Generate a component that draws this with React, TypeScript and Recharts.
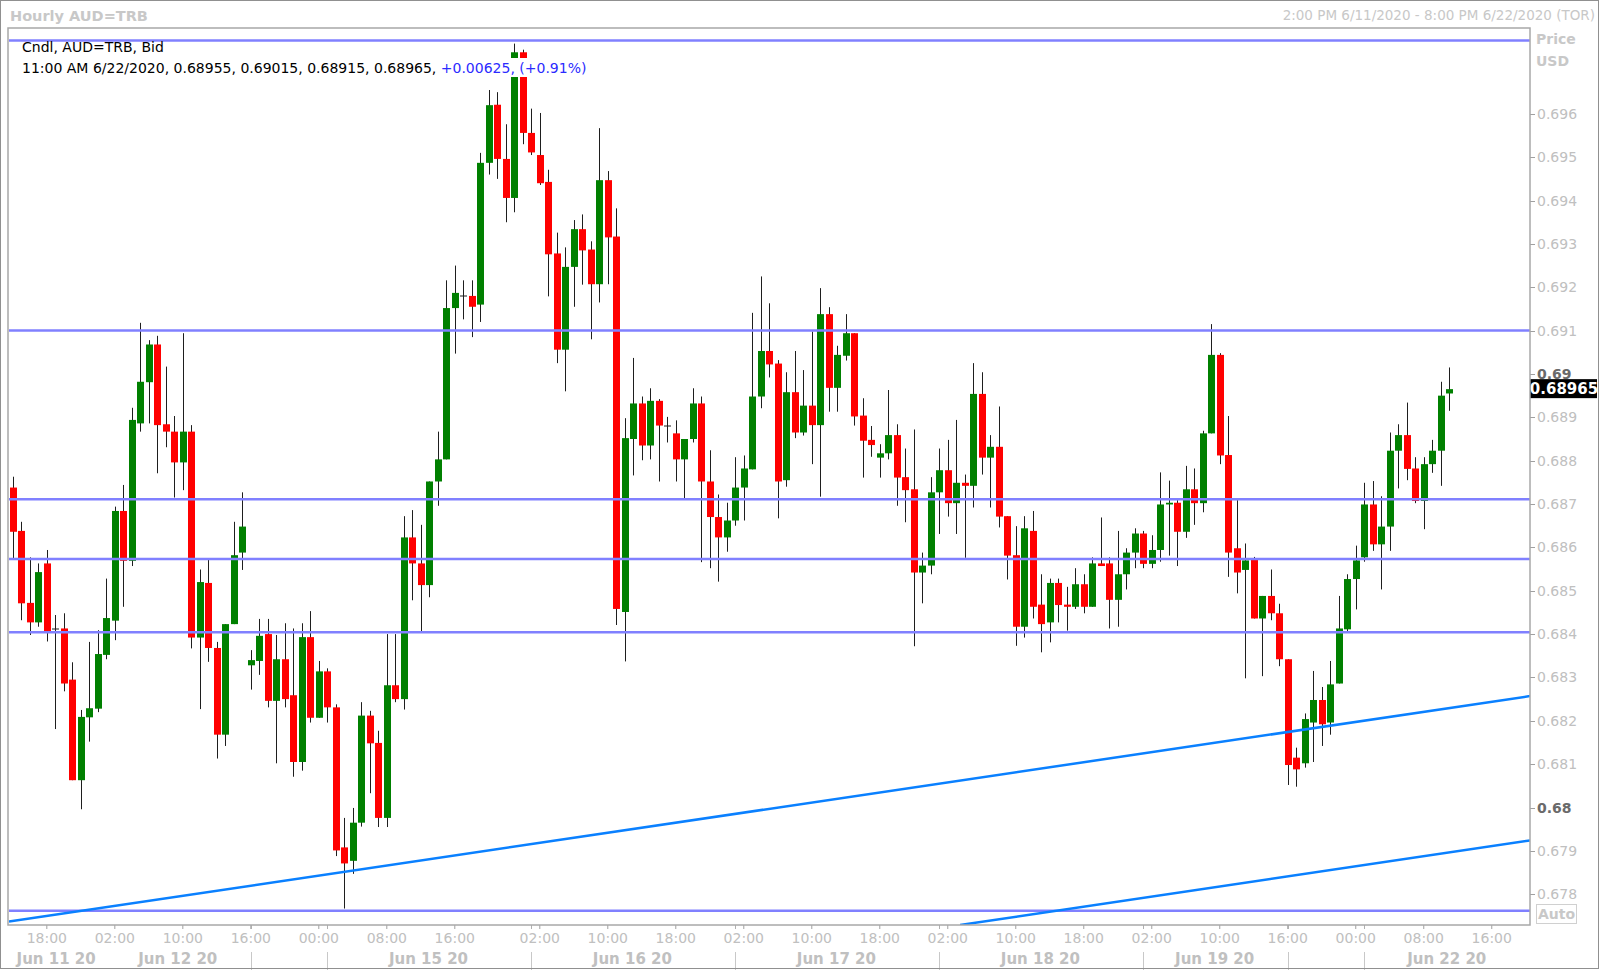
import React from "react";
import { ComposedChart, Bar, XAxis, YAxis, ReferenceLine } from "recharts";

// ---------- DATA ----------
const OPEN = [
  0.68738, 0.68638, 0.68472, 0.68427, 0.68563, 0.68412, 0.68413, 0.68295, 0.68063, 0.68208,
  0.68228, 0.68352, 0.68431, 0.68684, 0.68569, 0.68886, 0.68981, 0.69068, 0.68884, 0.68867,
  0.68796, 0.68867, 0.68392, 0.68518, 0.68368, 0.68168, 0.68423, 0.68588, 0.68328, 0.68338,
  0.684, 0.68246, 0.68342, 0.68259, 0.68105, 0.68393, 0.68207, 0.68314, 0.68231, 0.67908,
  0.67877, 0.67965, 0.68212, 0.68149, 0.67976, 0.68282, 0.6825, 0.68623, 0.68563, 0.68513,
  0.68752, 0.68803, 0.69152, 0.6918, 0.6918, 0.6916, 0.69487, 0.69621, 0.69496, 0.69406,
  0.69742, 0.69556, 0.69505, 0.69443, 0.69278, 0.69056, 0.69247, 0.69334, 0.69287, 0.69207,
  0.69447, 0.69317, 0.68451, 0.6885, 0.68932, 0.68835, 0.68938, 0.68881, 0.68863, 0.68803,
  0.6885, 0.68932, 0.68752, 0.6867, 0.68623, 0.68662, 0.68738, 0.6878, 0.68948, 0.69053,
  0.69024, 0.68755, 0.68958, 0.68865, 0.68927, 0.68882, 0.69138, 0.68968, 0.69042, 0.69094,
  0.68904, 0.68848, 0.68807, 0.68817, 0.68859, 0.68762, 0.68734, 0.68542, 0.68558, 0.68727,
  0.68778, 0.68702, 0.68749, 0.68742, 0.68954, 0.68807, 0.68832, 0.68672, 0.68582, 0.68417,
  0.68638, 0.68468, 0.68427, 0.68518, 0.68468, 0.68463, 0.68515, 0.68463, 0.68563, 0.68563,
  0.68479, 0.68538, 0.68588, 0.68632, 0.68562, 0.68594, 0.68699, 0.68703, 0.68636, 0.68734,
  0.68702, 0.68863, 0.69044, 0.68813, 0.68598, 0.68548, 0.68571, 0.68436, 0.68488, 0.68448,
  0.68342, 0.68115, 0.68102, 0.68196, 0.68248, 0.68196, 0.68286, 0.68411, 0.68527, 0.68577,
  0.68699, 0.68607, 0.68648, 0.68823, 0.68859, 0.68782, 0.68707, 0.68792, 0.68823, 0.68955,
];
const HIGH = [
  0.68763, 0.68659, 0.68577, 0.68563, 0.68594, 0.68444, 0.68448, 0.68335, 0.68225, 0.68382,
  0.68409, 0.68528, 0.68694, 0.68744, 0.68922, 0.69118, 0.69078, 0.69088, 0.69017, 0.68903,
  0.69094, 0.68882, 0.68549, 0.68571, 0.68382, 0.68423, 0.68659, 0.68727, 0.68363, 0.68435,
  0.68435, 0.68398, 0.68425, 0.68413, 0.68425, 0.68453, 0.68338, 0.68321, 0.68238, 0.67976,
  0.67999, 0.68243, 0.68223, 0.68177, 0.684, 0.684, 0.68672, 0.68686, 0.68652, 0.68752,
  0.68867, 0.69216, 0.6925, 0.69216, 0.69216, 0.6951, 0.69655, 0.6965, 0.69576, 0.69762,
  0.69748, 0.69612, 0.69602, 0.69471, 0.69326, 0.69292, 0.69355, 0.69368, 0.69306, 0.69567,
  0.69468, 0.69382, 0.68898, 0.69037, 0.68948, 0.68967, 0.68942, 0.68901, 0.68893, 0.6885,
  0.68967, 0.68948, 0.68824, 0.68722, 0.68703, 0.68808, 0.68812, 0.69141, 0.69225, 0.69163,
  0.69032, 0.69004, 0.69053, 0.69009, 0.69098, 0.69198, 0.69154, 0.69065, 0.69138, 0.69094,
  0.68944, 0.6888, 0.68838, 0.68963, 0.68884, 0.68828, 0.68872, 0.68588, 0.68762, 0.68828,
  0.68848, 0.68894, 0.68768, 0.69025, 0.69004, 0.68859, 0.68925, 0.68672, 0.68649, 0.68672,
  0.68684, 0.68538, 0.68528, 0.68528, 0.68509, 0.68552, 0.68538, 0.68577, 0.68669, 0.68577,
  0.68638, 0.68598, 0.68644, 0.68638, 0.68628, 0.68773, 0.68754, 0.68709, 0.68788, 0.68782,
  0.68869, 0.69115, 0.69048, 0.68903, 0.68709, 0.68609, 0.68578, 0.68488, 0.68549, 0.6847,
  0.68342, 0.68138, 0.68217, 0.68315, 0.68278, 0.68338, 0.68488, 0.68538, 0.68604, 0.68749,
  0.68753, 0.68718, 0.68865, 0.68884, 0.68934, 0.68808, 0.68808, 0.68848, 0.68982, 0.69015,
];
const LOW = [
  0.68575, 0.68432, 0.68398, 0.68417, 0.68383, 0.68181, 0.68268, 0.68063, 0.67996, 0.68152,
  0.6822, 0.68342, 0.68386, 0.68463, 0.68557, 0.68867, 0.68886, 0.68771, 0.68831, 0.68715,
  0.68732, 0.68367, 0.68227, 0.68336, 0.68113, 0.68142, 0.68423, 0.68548, 0.68272, 0.68306,
  0.68231, 0.68102, 0.68231, 0.68071, 0.68085, 0.68196, 0.68207, 0.68196, 0.67888, 0.67767,
  0.67847, 0.67956, 0.68033, 0.67955, 0.67955, 0.68243, 0.68226, 0.68478, 0.68404, 0.68485,
  0.68696, 0.68803, 0.69047, 0.69126, 0.69085, 0.6912, 0.6946, 0.6945, 0.6935, 0.69373,
  0.6953, 0.69505, 0.69436, 0.69179, 0.69025, 0.6896, 0.69155, 0.69206, 0.6908, 0.69165,
  0.69207, 0.68421, 0.68337, 0.68766, 0.68801, 0.68803, 0.68752, 0.68842, 0.68752, 0.68713,
  0.68842, 0.68566, 0.68552, 0.68521, 0.6859, 0.6865, 0.68662, 0.6878, 0.68921, 0.68992,
  0.68667, 0.6874, 0.68852, 0.68858, 0.68792, 0.68717, 0.68913, 0.68913, 0.69031, 0.68881,
  0.68761, 0.68809, 0.68761, 0.68803, 0.68696, 0.68658, 0.68372, 0.68471, 0.68538, 0.68631,
  0.68671, 0.68631, 0.68576, 0.68692, 0.68768, 0.68692, 0.68646, 0.68526, 0.68373, 0.68392,
  0.68436, 0.68358, 0.68381, 0.68427, 0.68408, 0.68458, 0.68448, 0.68463, 0.68557, 0.68413,
  0.68417, 0.68503, 0.68552, 0.68552, 0.68552, 0.68567, 0.68581, 0.68557, 0.68622, 0.68652,
  0.68681, 0.68863, 0.68792, 0.68532, 0.68494, 0.68298, 0.68436, 0.68303, 0.68432, 0.68326,
  0.68052, 0.68048, 0.68092, 0.68105, 0.68142, 0.68168, 0.68286, 0.68405, 0.68457, 0.68567,
  0.68592, 0.68503, 0.68592, 0.68736, 0.68755, 0.68702, 0.68642, 0.68772, 0.68742, 0.68915,
];
const CLOSE = [
  0.68636, 0.68471, 0.68427, 0.68543, 0.68405, 0.68412, 0.68286, 0.68063, 0.68209, 0.68229,
  0.68354, 0.68437, 0.68684, 0.68569, 0.68894, 0.68982, 0.69068, 0.68882, 0.68867, 0.68796,
  0.68867, 0.68392, 0.6852, 0.68368, 0.68168, 0.68423, 0.68582, 0.68648, 0.6834, 0.68396,
  0.68246, 0.68342, 0.6825, 0.68105, 0.68393, 0.68207, 0.68314, 0.68231, 0.67901, 0.67871,
  0.67965, 0.68212, 0.68148, 0.67976, 0.68282, 0.6825, 0.68623, 0.68563, 0.68513, 0.68752,
  0.68803, 0.69152, 0.69187, 0.6918, 0.69155, 0.69487, 0.6962, 0.69496, 0.69406, 0.69742,
  0.69556, 0.69511, 0.6944, 0.69276, 0.69056, 0.69247, 0.69334, 0.69285, 0.69207, 0.69447,
  0.69315, 0.68458, 0.68852, 0.68932, 0.68835, 0.68938, 0.68881, 0.68881, 0.68803, 0.6885,
  0.68932, 0.68752, 0.6867, 0.68623, 0.68662, 0.68738, 0.68782, 0.68948, 0.69053, 0.69022,
  0.68752, 0.68958, 0.68865, 0.68927, 0.68882, 0.69138, 0.68968, 0.69044, 0.69094, 0.68902,
  0.68846, 0.68836, 0.68817, 0.68859, 0.68761, 0.68732, 0.68542, 0.68558, 0.68727, 0.68778,
  0.68702, 0.68749, 0.68742, 0.68954, 0.68807, 0.68832, 0.68671, 0.68581, 0.68417, 0.68644,
  0.68463, 0.68423, 0.68518, 0.68467, 0.68463, 0.68515, 0.68463, 0.68563, 0.68557, 0.68479,
  0.68538, 0.68588, 0.68632, 0.68562, 0.68594, 0.68699, 0.68703, 0.68636, 0.68734, 0.68702,
  0.68863, 0.69044, 0.68812, 0.68588, 0.68542, 0.6857, 0.68436, 0.68488, 0.68448, 0.68342,
  0.68098, 0.68088, 0.68204, 0.68248, 0.68192, 0.68284, 0.68413, 0.68527, 0.6857, 0.68699,
  0.68607, 0.68648, 0.68823, 0.68859, 0.68781, 0.68707, 0.68792, 0.68823, 0.6895, 0.68965,
];

const TIME_TICKS = [4, 12, 20, 28, 36, 44, 52, 62, 70, 78, 86, 94, 102, 110, 118, 126, 134, 142, 150, 158, 166, 174];
const TIME_LABELS = [
  "18:00", "02:00", "10:00", "16:00", "00:00", "08:00", "16:00", "02:00", "10:00", "18:00", "02:00",
  "10:00", "18:00", "02:00", "10:00", "18:00", "02:00", "10:00", "16:00", "00:00", "08:00", "16:00",
];
const DATE_SEPARATORS = [28, 37, 61, 85, 109, 133, 150, 159];
const DATE_LABEL_POS = [5.1, 19.4, 48.9, 72.9, 96.9, 120.9, 141.4, 168.7];
const DATE_LABELS = ["Jun 11 20", "Jun 12 20", "Jun 15 20", "Jun 16 20", "Jun 17 20", "Jun 18 20", "Jun 19 20", "Jun 22 20"];

const PRICE_TICKS = [0.678, 0.679, 0.68, 0.681, 0.682, 0.683, 0.684, 0.685, 0.686, 0.687, 0.688, 0.689, 0.69, 0.691, 0.692, 0.693, 0.694, 0.695, 0.696];
const LAST_PRICE = 0.68965;
const LEVELS = [0.69769, 0.691, 0.68711, 0.68573, 0.68404, 0.67762];
const TREND_1_X = [-0.45, 178.5];
const TREND_1_Y = [0.67737, 0.68257];
const TREND_2_X = [111.45, 178.5];
const TREND_2_Y = [0.67729, 0.67924];

const X_DOMAIN = [-0.45, 178.5];
const Y_DOMAIN = [0.67729, 0.69798];

const data = OPEN.map((o, i) => ({
  i,
  range: [LOW[i], HIGH[i]],
  open: o,
  high: HIGH[i],
  low: LOW[i],
  close: CLOSE[i],
}));

const FONT = "'DejaVu Sans', Verdana, sans-serif";
const GRAY = "#c0c0c0";

const Candle = (props: any) => {
  const { x, y, width, height, payload } = props;
  if (!payload || x == null || y == null) return null;
  const { open, close, high, low } = payload;
  const top = Math.min(y, y + height);
  const bot = Math.max(y, y + height);
  const span = high - low || 1e-9;
  const py = (v: number) => top + ((high - v) / span) * (bot - top);
  const cx = x + width / 2;
  const x0 = Math.round(cx - 3.5);
  const up = close >= open;
  const bTop = py(Math.max(open, close));
  const bBot = py(Math.min(open, close));
  const doji = Math.abs(close - open) < 1e-7;
  return (
    <g>
      <rect x={x0 + 3} y={top} width={1} height={Math.max(1, bot - top)} fill="#1e1e1e" />
      {doji ? (
        <rect x={x0} y={Math.round(bTop) - 0.5} width={7} height={1} fill="#1e1e1e" />
      ) : (
        <rect x={x0} y={bTop} width={7} height={Math.max(1.5, bBot - bTop)} fill={up ? "#008000" : "#ff0000"} />
      )}
    </g>
  );
};

const TimeTick = (props: any) => {
  const { x, y, payload } = props;
  const k = TIME_TICKS.indexOf(payload.value);
  return (
    <text x={x} y={y + 14} textAnchor="middle" fill={GRAY} fontSize={14} fontFamily={FONT}>
      {k >= 0 ? TIME_LABELS[k] : ""}
    </text>
  );
};

const DateTick = (props: any) => {
  const { x, y, payload } = props;
  const k = DATE_LABEL_POS.indexOf(payload.value);
  if (k >= 0) {
    return (
      <text x={x} y={y + 17} textAnchor="middle" fill={GRAY} fontSize={15} fontWeight="bold" fontFamily={FONT}>
        {DATE_LABELS[k]}
      </text>
    );
  }
  const sx = Math.round(x) + 0.5;
  return (
    <g>
      <line x1={sx} x2={sx} y1={y - 22} y2={y - 18} stroke="#b0b0b0" strokeWidth={1} />
      <line x1={sx} x2={sx} y1={y + 5} y2={y + 23} stroke="#c8c8c8" strokeWidth={1} />
    </g>
  );
};

const PriceTick = (props: any) => {
  const { x, y, payload } = props;
  const v: number = payload.value;
  if (Math.abs(v - LAST_PRICE) < 1e-7) {
    return (
      <g>
        <rect x={x} y={y - 10} width={67} height={19} fill="#000" />
        <text x={x + 34} y={y + 5} textAnchor="middle" fill="#fff" fontSize={15} fontWeight="bold" fontFamily={FONT}>
          {LAST_PRICE.toFixed(5)}
        </text>
      </g>
    );
  }
  const label = parseFloat(v.toFixed(3)).toString();
  const major = label.length < 5;
  const ly = Math.round(y) + 0.5;
  return (
    <g>
      <line x1={x} x2={x + 5} y1={ly} y2={ly} stroke="#a0a0a0" strokeWidth={1} />
      <text
        x={x + 7}
        y={y + 5}
        textAnchor="start"
        fill={major ? "#6a6a6a" : GRAY}
        fontSize={14}
        fontWeight={major ? "bold" : "normal"}
        fontFamily={FONT}
      >
        {label}
      </text>
    </g>
  );
};

export default function App() {
  return (
    <div style={{ position: "absolute", left: 0, top: 0, width: 1600, height: 972, background: "#fff", overflow: "hidden" }}>
      <div style={{ position: "absolute", left: 0, top: 0 }}>
        <ComposedChart width={1600} height={972} data={data} margin={{ top: 28, right: 0, bottom: 0, left: 9 }}>
          <XAxis
            dataKey="i"
            type="number"
            domain={X_DOMAIN}
            allowDataOverflow
            ticks={TIME_TICKS}
            interval={0}
            height={22}
            axisLine={false}
            tickSize={4}
            tickMargin={0}
            tickLine={{ stroke: "#a0a0a0" }}
            tick={<TimeTick />}
          />
          <XAxis
            xAxisId="date"
            dataKey="i"
            type="number"
            domain={X_DOMAIN}
            allowDataOverflow
            ticks={[...DATE_SEPARATORS, ...DATE_LABEL_POS]}
            interval={0}
            height={25}
            axisLine={false}
            tickLine={false}
            tickSize={0}
            tickMargin={0}
            tick={<DateTick />}
          />
          <YAxis
            orientation="right"
            type="number"
            domain={Y_DOMAIN}
            allowDataOverflow
            ticks={[...PRICE_TICKS, LAST_PRICE]}
            interval={0}
            width={70}
            axisLine={false}
            tickLine={false}
            tickSize={0}
            tickMargin={0}
            tick={<PriceTick />}
          />
          <Bar dataKey="range" barSize={7} shape={<Candle />} isAnimationActive={false} />
          {LEVELS.map((v) => (
            <ReferenceLine key={v} y={v} stroke="#8080ff" strokeWidth={2.5} ifOverflow="hidden" />
          ))}
          <ReferenceLine
            segment={[
              { x: TREND_1_X[0], y: TREND_1_Y[0] },
              { x: TREND_1_X[1], y: TREND_1_Y[1] },
            ]}
            stroke="#0a80ff"
            strokeWidth={2.5}
            ifOverflow="hidden"
          />
          <ReferenceLine
            segment={[
              { x: TREND_2_X[0], y: TREND_2_Y[0] },
              { x: TREND_2_X[1], y: TREND_2_Y[1] },
            ]}
            stroke="#0a80ff"
            strokeWidth={2.5}
            ifOverflow="hidden"
          />
        </ComposedChart>
      </div>
      <svg
        width={1600}
        height={972}
        style={{ position: "absolute", left: 0, top: 0, pointerEvents: "none" }}
        fontFamily={FONT}
      >
        <rect x={0.5} y={0.5} width={1598} height={968} fill="none" stroke="#909090" strokeWidth={1} />
        <rect x={8} y={28} width={1522} height={897} fill="none" stroke="#a8a8a8" strokeWidth={1.5} />
        <text x={10} y={21} fill="#c8c8c8" fontSize={14.5} fontWeight="bold">Hourly AUD=TRB</text>
        <text x={1595} y={20} fill="#c8c8c8" fontSize={13.5} textAnchor="end">
          2:00 PM 6/11/2020 - 8:00 PM 6/22/2020 (TOR)
        </text>
        <text x={1536} y={44} fill="#c8c8c8" fontSize={14} fontWeight="bold">Price</text>
        <text x={1536} y={66} fill="#c8c8c8" fontSize={14} fontWeight="bold">USD</text>
        <rect x={1536.5} y={904.5} width={40} height={19} fill="#fff" stroke="#d0d0d0" strokeWidth={1} />
        <text x={1556.5} y={919} fill="#c8c8c8" fontSize={14} fontWeight="bold" textAnchor="middle">Auto</text>
        <text x={22} y={52} fill="#000" fontSize={14}>Cndl, AUD=TRB, Bid</text>
        <rect x={20} y={58} width={572} height={19} fill="#fff" />
        <text x={22} y={73} fill="#000" fontSize={14}>
          11:00 AM 6/22/2020, 0.68955, 0.69015, 0.68915, 0.68965,{" "}
          <tspan fill="#2b2bff">+0.00625, (+0.91%)</tspan>
        </text>
      </svg>
    </div>
  );
}
